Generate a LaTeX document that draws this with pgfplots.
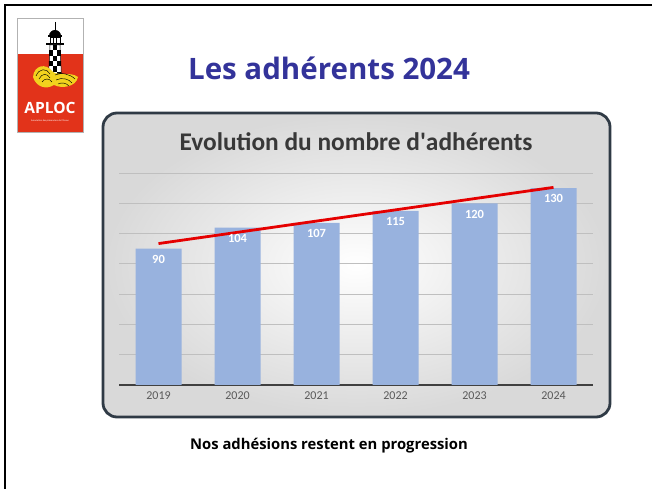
\documentclass[border=0pt]{standalone}
\usepackage{fontspec}
\setmainfont{Carlito}
\newfontfamily\slidefont{Open Sans}
\usepackage{pgfplots}
\pgfplotsset{compat=1.18}
\definecolor{barblue}{HTML}{98B2DE}
\definecolor{titleblue}{HTML}{33339A}
\definecolor{boxborder}{HTML}{2F3A45}
\definecolor{aplocred}{HTML}{E2331A}
\definecolor{aplocyellow}{HTML}{F2D21E}
\begin{document}
\begin{tikzpicture}[x=1pt,y=1pt]
\path[use as bounding box, fill=white] (0,0) rectangle (652,489);
% slide frame (left and top)
\draw[black, line width=2.5pt] (5,0) -- (5,484) -- (652,484);
% logo
\fill[white] (17,357) rectangle (83,471);
\fill[aplocred] (17,357) rectangle (83,435);
\draw[gray!60, line width=0.4pt] (17,357) rectangle (83,471);
% lighthouse
\draw[black, line width=0.7pt] (55,467) -- (55,459);
\fill[black] (49,453) arc[start angle=180, end angle=0, radius=6] -- cycle;
\fill[black] (48,452) rectangle (62,454);
\fill[white] (50,446) rectangle (60,452);
\draw[black, line width=0.6pt] (50,446) rectangle (60,452);
\draw[black, line width=0.6pt] (53.3,446) -- (53.3,452) (56.7,446) -- (56.7,452);
\fill[black] (46,444) rectangle (64,446);
\fill[white] (48.5,412) -- (61.5,412) -- (60,444) -- (50,444) -- cycle;
\foreach \r in {0,...,5}{
  \foreach \c in {0,1,2}{
    \pgfmathtruncatemacro\chk{mod(\r+\c,2)}
    \ifnum\chk=0
      \fill[black] ({49+\c*4},{412+\r*5.33}) rectangle ({49+(\c+1)*4},{412+(\r+1)*5.33});
    \fi
  }
}
\draw[black, line width=0.5pt] (48.5,412) -- (61.5,412) -- (60,444) -- (50,444) -- cycle;
% waves
\fill[aplocyellow] (33,412) .. controls (34,424) and (46,426) .. (52,418) .. controls (58,412) and (70,418) .. (78,412) .. controls (76,402) and (62,400) .. (54,404) .. controls (46,399) and (36,402) .. (33,412) -- cycle;
\draw[black, line width=0.45pt] (36,413) .. controls (39,421) and (47,421) .. (50,415);
\draw[black, line width=0.45pt] (39,410) .. controls (42,416) and (47,416) .. (50,411);
\draw[black, line width=0.45pt] (42,407) .. controls (45,411) and (49,411) .. (52,407);
\draw[black, line width=0.45pt] (55,414) .. controls (61,417) and (70,415) .. (75,410);
\draw[black, line width=0.45pt] (56,409) .. controls (62,412) and (69,410) .. (72,406);
\draw[black, line width=0.45pt] (58,405) .. controls (62,407) and (66,406) .. (69,403);
\node[white, font=\slidefont\bfseries\fontsize{15.5}{15.5}\selectfont, inner sep=0pt] at (50,381) {APLOC};
\node[white, font=\fontsize{2.4}{2.4}\selectfont, inner sep=0pt] at (50,368) {Association des plaisanciers de l'Ocean};
% slide title
\node[titleblue, font=\slidefont\bfseries\fontsize{29.5}{29.5}\selectfont, inner sep=0pt] at (329,421) {Les adhérents 2024};
% chart box
\shade[rounded corners=14pt, inner color=white, outer color=black!15] (103,72) rectangle (610,376);
\draw[boxborder, line width=2.8pt, rounded corners=14pt] (103,72) rectangle (610,376);
\node[black!78, font=\bfseries\fontsize{25.4}{25.4}\selectfont, inner sep=0pt] at (356,347) {Evolution du nombre d\textquotesingle adhérents};
\begin{axis}[
  at={(119pt,104pt)}, anchor=south west,
  scale only axis, width=474pt, height=212pt,
  xmin=-0.5, xmax=5.5, ymin=0, ymax=140,
  ytick={0,20,...,140}, yticklabels={},
  ymajorgrids, grid style={black!25, line width=0.8pt},
  axis lines*=left,
  y axis line style={draw=none},
  x axis line style={draw=black!75, line width=1.6pt, -},
  xtick=data, xticklabels={2019,2020,2021,2022,2023,2024},
  major tick length=0pt,
  xticklabel style={font=\fontsize{12}{12}\selectfont, text=black!65, yshift=-3pt},
  /pgf/number format/assume math mode=true,
  clip=false,
]
\addplot[ybar, bar width=46pt, fill=barblue, draw=none,
  nodes near coords,
  every node near coord/.append style={anchor=north, yshift=-3pt, text=white, font=\bfseries\fontsize{12.5}{12.5}\selectfont}]
  coordinates {(0,90) (1,104) (2,107) (3,115) (4,120) (5,130)};
\addplot[red!90!black, line width=2.8pt, no marks] coordinates {(0,93.4) (5,130.5)};
\end{axis}
% footer
\node[black, font=\slidefont\bfseries\fontsize{14.8}{14.8}\selectfont, inner sep=0pt] at (329,43) {Nos adhésions restent en progression};
\end{tikzpicture}
\end{document}
